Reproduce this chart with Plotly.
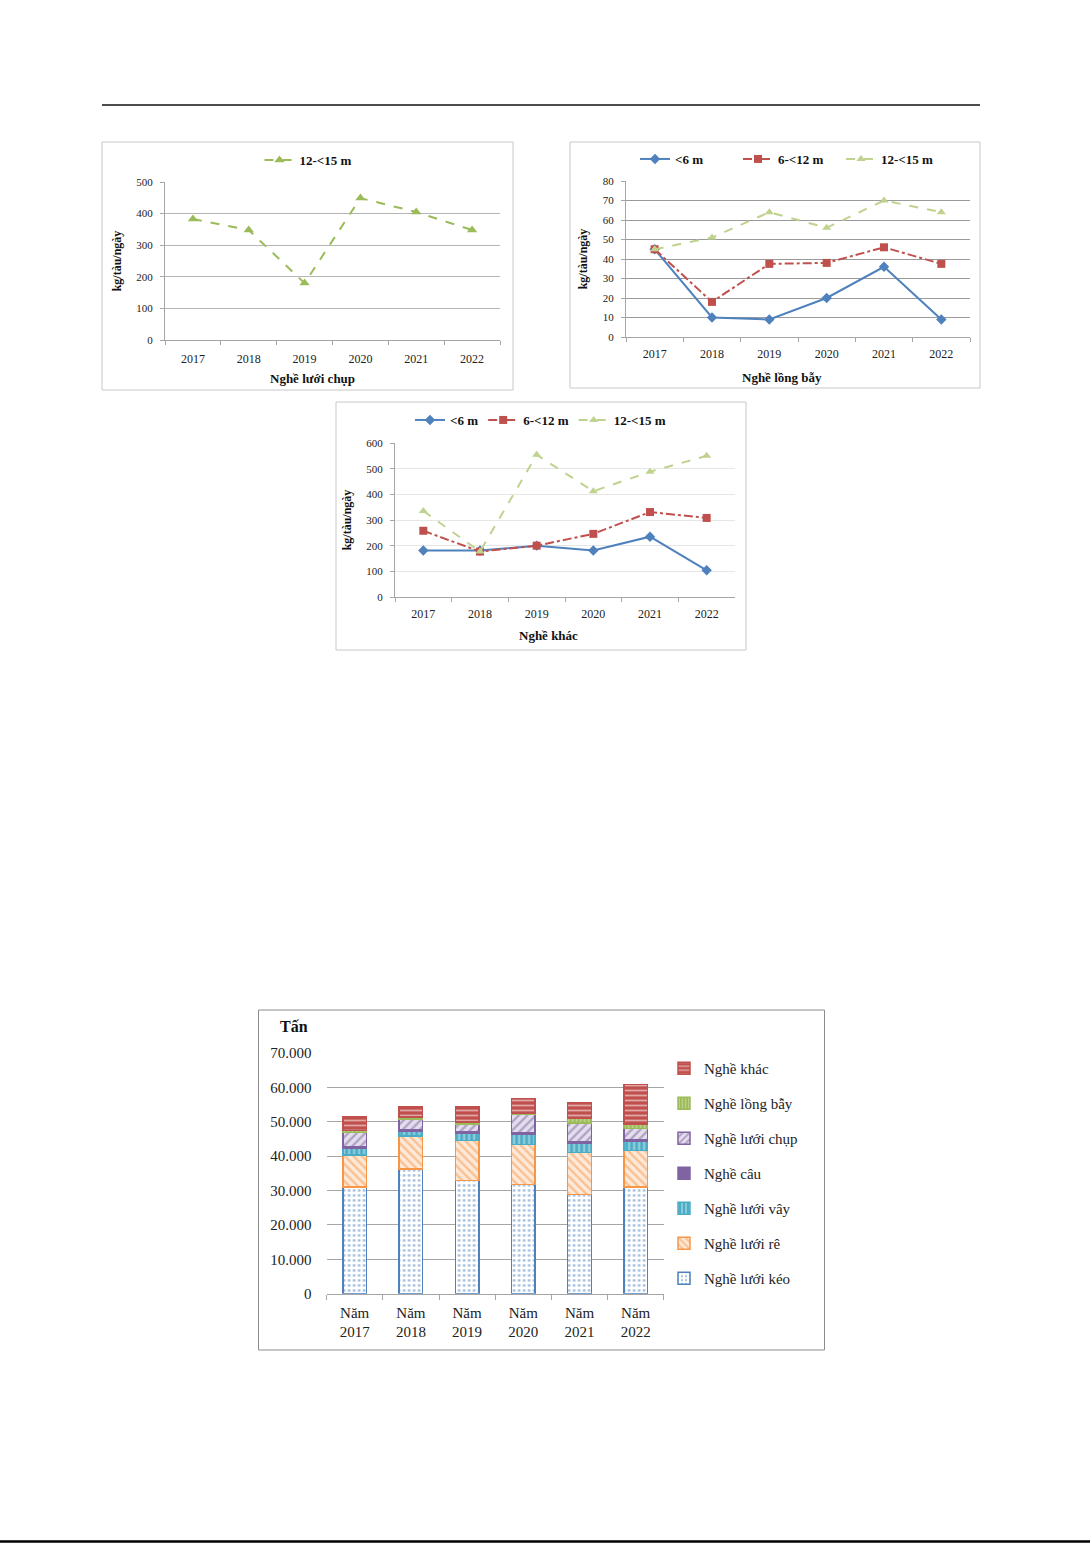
import plotly.graph_objects as go

W, H = 1090, 1543


def px(x):
    return x / W


def py(y):
    return 1 - y / H


# ---------------- data ----------------
years = ["2017", "2018", "2019", "2020", "2021", "2022"]

# Chart 1: Nghề lưới chụp (kg/tàu/ngày)
chup_12_15 = [383, 348, 180, 449, 405, 348]

# Chart 2: Nghề lồng bẫy
bay_lt6 = [45, 10, 9, 20, 36, 9]
bay_6_12 = [45, 18, 37.5, 38, 46, 37.5]
bay_12_15 = [45, 51, 64, 56, 70, 64]

# Chart 3: Nghề khác
khac_lt6 = [181, 181, 200, 181, 235, 104]
khac_6_12 = [258, 177, 200, 246, 331, 308]
khac_12_15 = [335, 177, 554, 412, 488, 550]

series_names = ["<6 m", "6-<12 m", "12-<15 m"]
chart_titles = ["Nghề lưới chụp", "Nghề lồng bẫy", "Nghề khác"]
y_title = "kg/tàu/ngày"

# Chart 4: sản lượng (tấn)
bar_cats = ["Năm<br>2017", "Năm<br>2018", "Năm<br>2019", "Năm<br>2020", "Năm<br>2021", "Năm<br>2022"]
luoi_keo = [31000, 36300, 32900, 31700, 28800, 31000]
luoi_re = [9400, 9500, 11600, 11700, 12300, 10600]
luoi_vay = [1800, 1400, 2100, 2900, 2700, 2700]
nghe_cau = [400, 400, 400, 400, 500, 400]
luoi_chup = [4300, 3200, 2400, 5400, 5400, 3300]
long_bay = [600, 600, 600, 500, 1200, 1200]
nghe_khac = [4000, 2900, 4300, 4100, 4600, 11600]

y4_ticks = [0, 10000, 20000, 30000, 40000, 50000, 60000, 70000]
y4_text = ["0", "10.000", "20.000", "30.000", "40.000", "50.000", "60.000", "70.000"]

# ---------------- styles ----------------
FONT = "Liberation Serif"
BLUE = "#4F81BD"
RED = "#C0504D"
GREEN = "#9BBB59"
PALEGREEN = "#BFD38F"
ORANGE = "#F79646"
CYAN = "#4BACC6"
PURPLE = "#8064A2"

fig = go.Figure()

# Chart 1
fig.add_trace(go.Scatter(x=years, y=chup_12_15, name="12-<15 m", mode="lines+markers",
                         line=dict(color=GREEN, width=2, dash="dash"),
                         marker=dict(symbol="triangle-up", size=9, color=GREEN),
                         xaxis="x", yaxis="y", legend="legend"))

# Chart 2
for vals, nm, col, dash, sym in [
    (bay_lt6, series_names[0], BLUE, "solid", "diamond"),
    (bay_6_12, series_names[1], RED, "dashdot", "square"),
    (bay_12_15, series_names[2], PALEGREEN, "dash", "triangle-up"),
]:
    fig.add_trace(go.Scatter(x=years, y=vals, name=nm, mode="lines+markers",
                             line=dict(color=col, width=2, dash=dash),
                             marker=dict(symbol=sym, size=8, color=col),
                             xaxis="x2", yaxis="y2", legend="legend2"))

# Chart 3
for vals, nm, col, dash, sym in [
    (khac_lt6, series_names[0], BLUE, "solid", "diamond"),
    (khac_6_12, series_names[1], RED, "dashdot", "square"),
    (khac_12_15, series_names[2], PALEGREEN, "dash", "triangle-up"),
]:
    fig.add_trace(go.Scatter(x=years, y=vals, name=nm, mode="lines+markers",
                             line=dict(color=col, width=2, dash=dash),
                             marker=dict(symbol=sym, size=8, color=col),
                             xaxis="x3", yaxis="y3", legend="legend3"))

# Chart 4 stacked bars
bar_specs = [
    (luoi_keo, "Nghề lưới kéo", BLUE, dict(shape=".", fgcolor=BLUE, bgcolor="white", size=5, solidity=0.25)),
    (luoi_re, "Nghề lưới rê", ORANGE, dict(shape="\\", fgcolor=ORANGE, bgcolor="#FDE9D9", size=6, solidity=0.4)),
    (luoi_vay, "Nghề lưới vây", CYAN, dict(shape="|", fgcolor="white", bgcolor=CYAN, size=5, solidity=0.35)),
    (nghe_cau, "Nghề câu", PURPLE, dict(shape="")),
    (luoi_chup, "Nghề lưới chụp", PURPLE, dict(shape="/", fgcolor=PURPLE, bgcolor="#E4DFEC", size=6, solidity=0.4)),
    (long_bay, "Nghề lồng bẫy", GREEN, dict(shape="|", fgcolor="white", bgcolor=GREEN, size=4, solidity=0.3)),
    (nghe_khac, "Nghề khác", RED, dict(shape="-", fgcolor="white", bgcolor=RED, size=5, solidity=0.35)),
]
n_bars = len(bar_specs)
for i, (vals, nm, col, pat) in enumerate(bar_specs):
    mk = dict(color=col, line=dict(color=col, width=1.5))
    if pat.get("shape"):
        mk["pattern"] = pat
    fig.add_trace(go.Bar(x=bar_cats, y=vals, name=nm, marker=mk, width=0.42,
                         xaxis="x4", yaxis="y4", legend="legend4", legendgroup=nm,
                         legendrank=100 * (n_bars - i)))

# ---------------- axes ----------------
tickfont = dict(family=FONT, size=12, color="#222")
ytickfont = dict(family=FONT, size=11, color="#222")
titlefont = dict(family=FONT, size=13, color="#111", weight="bold")


def xcat(domain, anchor, standoff):
    return dict(domain=domain, anchor=anchor, type="category", range=[-0.5, 5.5],
                showline=True, linecolor="#A6A6A6", linewidth=1,
                ticks="outside", tickson="boundaries", ticklen=4, tickcolor="#A6A6A6",
                ticklabelstandoff=standoff,
                tickfont=tickfont, showgrid=False, zeroline=False, automargin=False)


def ylin(domain, anchor, rng, dtick, gridcolor):
    return dict(domain=domain, anchor=anchor, range=rng, dtick=dtick,
                showline=True, linecolor="#A6A6A6", linewidth=1,
                ticks="outside", ticklen=4, tickcolor="#A6A6A6", ticklabelstandoff=5,
                tickfont=ytickfont, showgrid=True, gridcolor=gridcolor, gridwidth=1,
                zeroline=False, automargin=False,
                title=dict(text=f"<b>{y_title}</b>", font=dict(family=FONT, size=12, color="#111"), standoff=12))


legfont = dict(family=FONT, size=13, color="#111", weight="bold")

x_title_pos = [(312, 379), (782, 377), (548, 635)]
annotations = [dict(text="<b>Tấn</b>", x=px(294), y=py(1026), xref="paper", yref="paper",
                    xanchor="center", yanchor="middle",
                    showarrow=False, font=dict(family=FONT, size=16, color="#111"))]
for t, (cx, cy) in zip(chart_titles, x_title_pos):
    annotations.append(dict(text=t, x=px(cx), y=py(cy), xref="paper", yref="paper",
                            xanchor="center", yanchor="middle", showarrow=False, font=titlefont))

layout = dict(
    width=W, height=H, margin=dict(l=0, r=0, t=0, b=0, autoexpand=False),
    paper_bgcolor="white", plot_bgcolor="rgba(0,0,0,0)",
    font=dict(family=FONT, color="#222"),
    barmode="stack", showlegend=True,
    xaxis=xcat([px(165), px(500)], "y", 8),
    yaxis=ylin([py(340), py(182)], "x", [0, 500], 100, "#B5B5B5"),
    xaxis2=xcat([px(626), px(970)], "y2", 6),
    yaxis2=ylin([py(337), py(181)], "x2", [0, 80], 10, "#9A9A9A"),
    xaxis3=xcat([px(395), px(735)], "y3", 6),
    yaxis3=ylin([py(597), py(443)], "x3", [0, 600], 100, "#E6E6E6"),
    yaxis5=dict(overlaying="y3", anchor="x3", range=[0, 600], tickvals=[400], showticklabels=False,
                showgrid=True, gridcolor="#9A9A9A", gridwidth=1, showline=False, zeroline=False, ticks="",
                automargin=False),
    xaxis4=dict(domain=[px(326.6), px(663.8)], anchor="y4", type="category", range=[-0.5, 5.5],
                showline=True, linecolor="#A6A6A6", linewidth=1, automargin=False,
                ticks="outside", tickson="boundaries", ticklen=5, tickcolor="#A6A6A6",
                ticklabelstandoff=5,
                tickfont=dict(family=FONT, size=15, color="#222"), showgrid=False, zeroline=False),
    yaxis4=dict(domain=[py(1293.7), py(1053)], anchor="x4", range=[0, 70000],
                tickvals=y4_ticks, ticktext=y4_text, showline=False, ticks="",
                ticklabelstandoff=14, automargin=False,
                tickfont=dict(family=FONT, size=15, color="#222"),
                showgrid=True, gridcolor="#A6A6A6", gridwidth=1, zeroline=False),
    legend=dict(orientation="h", x=px(308), xanchor="center", y=py(160), yanchor="middle",
                font=legfont, bgcolor="rgba(0,0,0,0)"),
    legend2=dict(orientation="h", x=px(635), xanchor="left", y=py(159), yanchor="middle",
                 entrywidth=58, entrywidthmode="pixels",
                 font=legfont, bgcolor="rgba(0,0,0,0)"),
    legend3=dict(orientation="h", x=px(410), xanchor="left", y=py(420), yanchor="middle",
                 font=legfont, bgcolor="rgba(0,0,0,0)"),
    legend4=dict(orientation="v", x=px(664), xanchor="left", y=py(1052), yanchor="top",
                 traceorder="grouped", tracegroupgap=12.5, itemwidth=30,
                 font=dict(family=FONT, size=15, color="#222"), bgcolor="rgba(0,0,0,0)"),
    annotations=annotations,
    shapes=[
        dict(type="line", xref="paper", yref="paper", x0=px(102), x1=px(980), y0=py(105), y1=py(105),
             line=dict(color="#111", width=1.5)),
        dict(type="line", xref="paper", yref="paper", x0=0, x1=1, y0=py(1541.5), y1=py(1541.5),
             line=dict(color="#000", width=2.5)),
        dict(type="rect", xref="paper", yref="paper", x0=px(102), x1=px(513), y0=py(390), y1=py(142),
             line=dict(color="#C8C8C8", width=1)),
        dict(type="rect", xref="paper", yref="paper", x0=px(570), x1=px(980), y0=py(388), y1=py(142),
             line=dict(color="#C8C8C8", width=1)),
        dict(type="rect", xref="paper", yref="paper", x0=px(336), x1=px(746), y0=py(650), y1=py(402),
             line=dict(color="#C8C8C8", width=1)),
        dict(type="rect", xref="paper", yref="paper", x0=px(258.5), x1=px(824.5), y0=py(1350), y1=py(1010),
             line=dict(color="#8C8C8C", width=1)),
    ],
)
fig.update_layout(**layout)
fig.write_html("out.html", config={"displayModeBar": False},
               post_script="document.body.style.margin='0';document.body.style.overflow='hidden';")
